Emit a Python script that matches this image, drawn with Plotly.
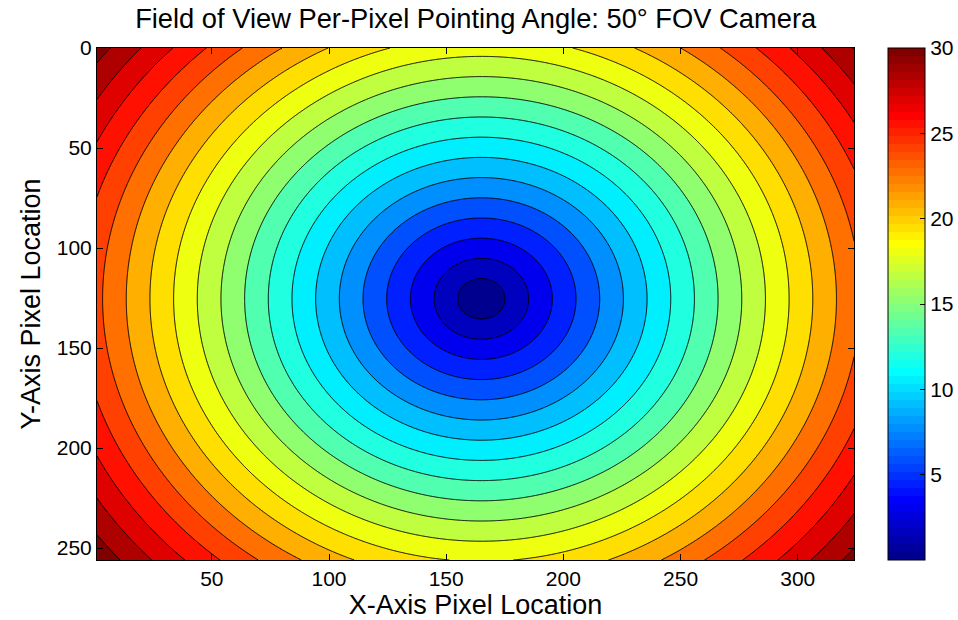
import numpy as np
import plotly.graph_objects as go

# ---- data ----
x_pixels = np.arange(1, 325)          # X-Axis Pixel Location 1..324
y_pixels = np.arange(0, 257)          # Y-Axis Pixel Location 0..256
center_x = 165.0                      # optical centre (px)
center_y = 125.4
deg_per_pixel = 0.1485                # per-pixel pointing angle step (deg/px)
contour_levels = dict(start=1.5, end=30.0, size=1.5)
color_limits = [0.0, 30.0]
x_ticks = [50, 100, 150, 200, 250, 300]
y_ticks = [0, 50, 100, 150, 200, 250]
cbar_ticks = [5, 10, 15, 20, 25, 30]

# pointing angle of each pixel
XX, YY = np.meshgrid(x_pixels, y_pixels)
Z = deg_per_pixel * np.hypot(XX - center_x, YY - center_y)


def jet(m=64):
    n = int(np.ceil(m / 4))
    u = np.concatenate([np.arange(1, n + 1) / n, np.ones(n - 1), np.arange(n, 0, -1) / n])
    g = int(np.ceil(n / 2)) - (1 if m % 4 == 1 else 0) + np.arange(1, len(u) + 1)
    r = g + n
    b = g - n
    J = np.zeros((m, 3))
    J[r[r <= m] - 1, 0] = u[r <= m]
    J[g[g <= m] - 1, 1] = u[g <= m]
    J[b[b > 0] - 1, 2] = u[b > 0]
    return J


JET = jet(64)


def rgb(c):
    return "rgb(%d,%d,%d)" % tuple(int(round(v * 255)) for v in c)


# band colours (MATLAB contourf: band coloured by its lower level)
lv = np.arange(contour_levels["start"], contour_levels["end"] + 1e-9, contour_levels["size"])
nc = len(lv)
band_vals = np.concatenate([[color_limits[0]], lv])
cs = []
for k, v in enumerate(band_vals):
    idx = int(np.floor((v - color_limits[0]) / (color_limits[1] - color_limits[0]) * 64))
    idx = min(max(idx, 0), 63)
    col = rgb(JET[idx])
    lo = max(0.0, (k - 0.5) / nc)
    hi = min(1.0, (k + 0.5) / nc)
    cs.append([lo, col])
    cs.append([hi, col])

# continuous (64-step) colorbar scale
cbar_cs = []
for i in range(64):
    cbar_cs.append([i / 64, rgb(JET[i])])
    cbar_cs.append([(i + 1) / 64, rgb(JET[i])])

FONT = "Liberation Sans, Arial, sans-serif"

fig = go.Figure()
fig.add_trace(go.Contour(
    x=x_pixels, y=y_pixels, z=Z,
    autocontour=False,
    contours=dict(start=contour_levels["start"], end=contour_levels["end"],
                  size=contour_levels["size"], coloring="fill"),
    colorscale=cs,
    line=dict(color="black", width=1, smoothing=0),
    showscale=False,
    hoverinfo="skip",
))
fig.add_trace(go.Scatter(
    x=[x_pixels[0], x_pixels[0]], y=[y_pixels[0], y_pixels[0]],
    mode="markers",
    marker=dict(size=0.1, opacity=0, color=color_limits, cmin=color_limits[0],
                cmax=color_limits[1], colorscale=cbar_cs, showscale=True,
                colorbar=dict(x=1.045, xanchor="left", y=0.5, yanchor="middle",
                              len=1.0, lenmode="fraction", thickness=37,
                              outlinecolor="black", outlinewidth=1,
                              tickvals=cbar_ticks, ticks="inside", ticklen=5,
                              tickcolor="black",
                              tickfont=dict(family=FONT, size=21, color="black"),
                              xpad=0, ypad=0)),
    showlegend=False, hoverinfo="skip",
))

axis_common = dict(showline=True, linecolor="black", linewidth=1, mirror="allticks",
                   ticks="inside", ticklen=6, tickcolor="black", showgrid=False,
                   zeroline=False, tickfont=dict(family=FONT, size=21, color="black"))
fig.update_xaxes(range=[1, 324], tickvals=x_ticks,
                 title=dict(text="X-Axis Pixel Location", font=dict(family=FONT, size=27, color="black"), standoff=4),
                 **axis_common)
fig.update_yaxes(range=[256, 0], tickvals=y_ticks,
                 title=dict(text="Y-Axis Pixel Location", font=dict(family=FONT, size=27, color="black"), standoff=8),
                 **axis_common)
fig.update_layout(
    width=958, height=620,
    margin=dict(l=97, r=104, t=48, b=60, autoexpand=False),
    paper_bgcolor="white", plot_bgcolor="white",
    title=dict(text="Field of View Per-Pixel Pointing Angle: 50° FOV Camera",
               x=0.4965, xanchor="center", y=0.971, yanchor="middle",
               font=dict(family=FONT, size=27.3, color="black")),
)
fig.write_html("out.html")
